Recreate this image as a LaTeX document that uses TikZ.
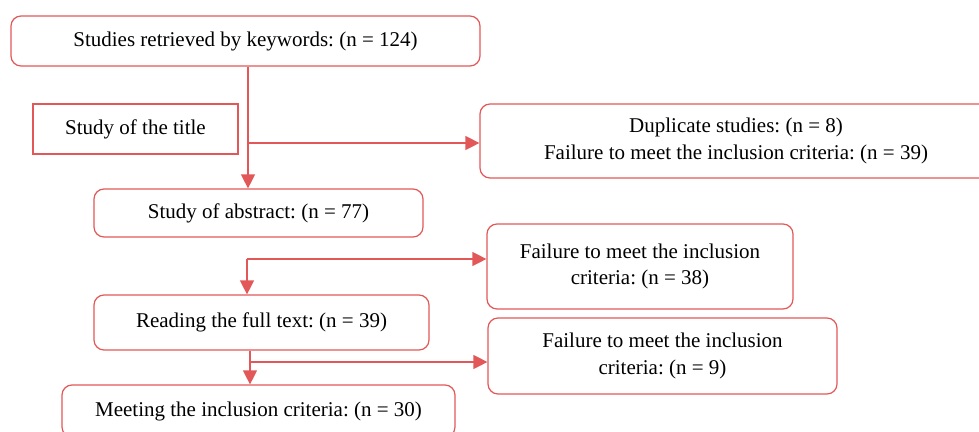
\documentclass[tikz,border=0pt]{standalone}
\usepackage{fontspec}
\setmainfont{Liberation Serif}
\usepackage{tikz}
\usetikzlibrary{arrows.meta}
\frenchspacing

\definecolor{boxred}{RGB}{226,88,88}

\tikzset{
	flowbox/.style={draw=boxred, line width=1.2pt, rounded corners=10pt, align=center, inner sep=0pt, font=\fontsize{21}{26.5}\selectfont},
	titlebox/.style={draw=boxred, line width=1.1pt, inner sep=0pt, font=\fontsize{21}{26.5}\selectfont},
	flowarrow/.style={draw=boxred, line width=1.2pt, -{Triangle[length=14pt,width=14pt]}}
}

\begin{document}
\begin{tikzpicture}[x=1pt, y=-1pt]
		\useasboundingbox (0,0) rectangle (979,431);
		% boxes
		\node[flowbox, minimum width=469pt, minimum height=50pt] (keywords) at (245.5,41) {Studies retrieved by keywords: (n = 124)};
		\node[titlebox, minimum width=205pt, minimum height=50pt] (title) at (135.5,129) {Study of the title};
		\node[flowbox, minimum width=512pt, minimum height=74pt] (dupl) at (736,141) {Duplicate studies: (n = 8)\\Failure to meet the inclusion criteria: (n = 39)};
		\node[flowbox, minimum width=329pt, minimum height=48pt] (abstract) at (258.5,213) {Study of abstract: (n = 77)};
		\node[flowbox, minimum width=306pt, minimum height=85pt] (excl1) at (640,266.5) {Failure to meet the inclusion\\criteria: (n = 38)};
		\node[flowbox, minimum width=335pt, minimum height=55pt] (fulltext) at (261.5,322.5) {Reading the full text: (n = 39)};
		\node[flowbox, minimum width=349pt, minimum height=76pt] (excl2) at (662.5,356) {Failure to meet the inclusion\\criteria: (n = 9)};
		\node[flowbox, minimum width=393pt, minimum height=52pt] (included) at (258.5,411) {Meeting the inclusion criteria: (n = 30)};
		% branch points
		\coordinate (b1) at (248,143);
		\coordinate (b2) at (247,259);
		\coordinate (b3) at (250,362);
		% connectors
		\draw[flowarrow] (keywords.south -| b1) -- (abstract.north -| b1);
		\draw[flowarrow] (b1) -- (dupl.west |- b1);
		\draw[flowarrow] (b2) -- (excl1.west |- b2);
		\draw[flowarrow] (b2) -- (fulltext.north -| b2);
		\draw[flowarrow] (fulltext.south -| b3) -- (included.north -| b3);
		\draw[flowarrow] (b3) -- (excl2.west |- b3);
	\end{tikzpicture}
\end{document}
